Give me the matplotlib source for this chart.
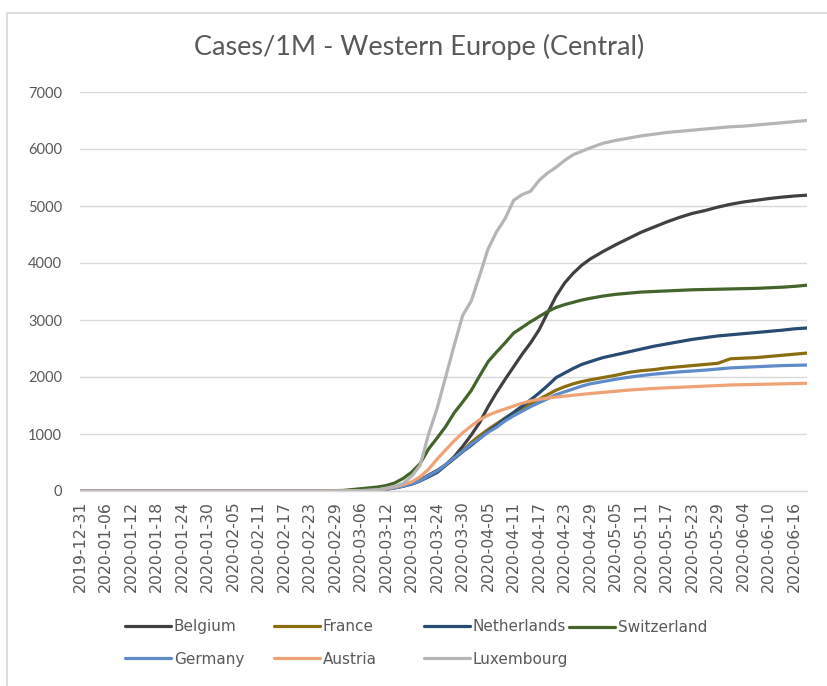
import matplotlib
matplotlib.use("Agg")
import matplotlib.pyplot as plt
from matplotlib.patches import Rectangle
import pandas as pd

# ---------------- data ----------------
start_date = "2019-12-31"
end_date = "2020-06-19"
sample_dates = [
    "2019-12-31", "2020-02-23", "2020-02-27", "2020-03-02", "2020-03-06", "2020-03-08",
    "2020-03-10", "2020-03-12", "2020-03-14", "2020-03-16", "2020-03-18", "2020-03-20",
    "2020-03-22", "2020-03-24", "2020-03-26", "2020-03-28", "2020-03-30", "2020-04-01",
    "2020-04-03", "2020-04-05", "2020-04-07", "2020-04-09", "2020-04-11", "2020-04-13",
    "2020-04-15", "2020-04-17", "2020-04-19", "2020-04-21", "2020-04-23", "2020-04-25",
    "2020-04-27", "2020-04-29", "2020-05-02", "2020-05-05", "2020-05-08", "2020-05-11",
    "2020-05-14", "2020-05-17", "2020-05-20", "2020-05-23", "2020-05-26", "2020-05-29",
    "2020-06-01", "2020-06-04", "2020-06-07", "2020-06-10", "2020-06-13", "2020-06-16",
    "2020-06-19",
]

belgium = [0, 0, 0, 1, 10, 20, 30, 35, 60, 90, 130, 190, 280, 360, 460, 600, 780, 980,
           1200, 1480, 1730, 1960, 2180, 2400, 2600, 2830, 3130, 3420, 3650, 3820, 3960,
           4070, 4200, 4320, 4430, 4540, 4630, 4720, 4800, 4870, 4920, 4980, 5030, 5070,
           5100, 5130, 5155, 5175, 5190]
france = [0, 0, 0, 2, 10, 15, 25, 40, 70, 100, 140, 190, 260, 340, 450, 570, 700, 850,
          970, 1080, 1180, 1280, 1370, 1450, 1530, 1610, 1690, 1770, 1830, 1880, 1920,
          1950, 1990, 2030, 2080, 2110, 2130, 2160, 2180, 2200, 2220, 2240, 2320, 2330,
          2340, 2360, 2380, 2400, 2420]
netherlands = [0, 0, 0, 1, 5, 11, 19, 30, 56, 83, 120, 175, 250, 325, 450, 570, 690, 800,
               920, 1045, 1150, 1270, 1380, 1490, 1600, 1720, 1850, 1990, 2070, 2150, 2220,
               2270, 2340, 2390, 2440, 2490, 2540, 2580, 2620, 2660, 2690, 2720, 2740, 2760,
               2780, 2800, 2820, 2845, 2860]
switzerland = [0, 1, 3, 10, 40, 55, 70, 95, 140, 220, 330, 480, 740, 930, 1130, 1370, 1560,
               1760, 2020, 2270, 2440, 2600, 2770, 2870, 2970, 3060, 3150, 3220, 3270, 3310,
               3350, 3380, 3420, 3450, 3470, 3490, 3500, 3510, 3520, 3530, 3535, 3540, 3545,
               3550, 3555, 3565, 3575, 3590, 3610]
germany = [0, 0, 0, 2, 8, 12, 20, 30, 50, 85, 130, 180, 270, 350, 460, 580, 700, 820,
           920, 1030, 1120, 1230, 1320, 1400, 1480, 1550, 1620, 1690, 1740, 1790, 1840,
           1880, 1920, 1960, 1995, 2025, 2050, 2070, 2090, 2105, 2120, 2140, 2160, 2170,
           2180, 2190, 2200, 2205, 2210]
austria = [0, 0, 0, 2, 6, 12, 20, 40, 70, 110, 160, 250, 380, 560, 720, 880, 1020, 1140,
           1250, 1330, 1390, 1440, 1490, 1540, 1580, 1610, 1630, 1650, 1665, 1680, 1695,
           1710, 1730, 1750, 1770, 1785, 1800, 1810, 1820, 1830, 1840, 1850, 1860, 1865,
           1870, 1875, 1880, 1885, 1890]
luxembourg = [0, 0, 0, 0, 5, 10, 20, 50, 80, 130, 260, 450, 1000, 1450, 2000, 2550, 3080,
              3330, 3780, 4250, 4550, 4780, 5100, 5200, 5260, 5450, 5580, 5680, 5800, 5900,
              5960, 6020, 6100, 6150, 6190, 6230, 6260, 6290, 6310, 6330, 6350, 6370, 6390,
              6400, 6420, 6440, 6460, 6480, 6500]

series_names = ["Belgium", "France", "Netherlands", "Switzerland",
                "Germany", "Austria", "Luxembourg"]
series_values = [belgium, france, netherlands, switzerland, germany, austria, luxembourg]
series_colors = ["#404040", "#8A6D10", "#274B72", "#43652C",
                 "#5F8BCB", "#EFA276", "#B5B5B5"]

y_ticks = [0, 1000, 2000, 3000, 4000, 5000, 6000, 7000]
tick_step_days = 6

title = "Cases/1M - Western Europe (Central)"

# legend layout: columns of entries (row 1 / row 2)
legend_columns = [["Belgium", "Germany"], ["France", "Austria"],
                  ["Netherlands", "Luxembourg"], ["Switzerland"]]

# ---------------- figure ----------------
plt.rcParams["font.family"] = ["Lato", "DejaVu Sans"]
W, H = 827, 686
fig = plt.figure(figsize=(8.27, 6.86), dpi=100)
fig.patch.set_facecolor("white")

# outer chart border
fig.add_artist(Rectangle((7 / W, -0.01), 1.0, 1 - 13 / H + 0.01,
                         transform=fig.transFigure, fill=False,
                         edgecolor="#D9D9D9", linewidth=1.2))

ax = fig.add_axes([80 / W, 1 - 491 / H, (807 - 80) / W, (491 - 92) / H])

x = pd.to_datetime(sample_dates)
lines = {}
for name, vals, col in zip(series_names, series_values, series_colors):
    (ln,) = ax.plot(x, vals, color=col, linewidth=2.3, label=name,
                    solid_capstyle="round", solid_joinstyle="round")
    lines[name] = ln

xmin = pd.Timestamp(start_date)
xmax = pd.Timestamp(end_date)
ax.set_xlim(xmin, xmax)
ax.set_ylim(0, 7000)

tick_dates = pd.date_range(xmin, xmax, freq=f"{tick_step_days}D")
ax.set_xticks(tick_dates)
ax.set_xticklabels([d.strftime("%Y-%m-%d") for d in tick_dates], rotation=90,
                   fontsize=11.3, color="#595959", family=["DejaVu Sans"])
ax.set_yticks(y_ticks)
ax.set_yticklabels([str(v) for v in y_ticks], fontsize=10.5, color="#595959")

ax.grid(axis="y", color="#D9D9D9", linewidth=1.0)
ax.set_axisbelow(True)
for s in ["top", "right", "left"]:
    ax.spines[s].set_visible(False)
ax.spines["bottom"].set_color("#D9D9D9")
ax.spines["bottom"].set_linewidth(1.0)
ax.tick_params(axis="both", length=0)
ax.tick_params(axis="y", pad=13)
ax.tick_params(axis="x", pad=7)

fig.text(419 / W, 1 - 47 / H, title, ha="center", va="center",
         fontsize=19.5, color="#595959")

col_x = [125, 274, 424, 569]
for cx, names in zip(col_x, legend_columns):
    anchor_y = 643 if len(names) == 2 else 627.5
    leg = fig.legend([lines[n] for n in names], names, loc="center left",
                     bbox_to_anchor=(cx / W, 1 - anchor_y / H), frameon=False,
                     prop={"family": "DejaVu Sans", "size": 11},
                     handlelength=3.0, handletextpad=0.2, borderpad=0,
                     borderaxespad=0, labelspacing=1.15)
    for t in leg.get_texts():
        t.set_color("#595959")

fig.savefig("out.png", dpi=100)
